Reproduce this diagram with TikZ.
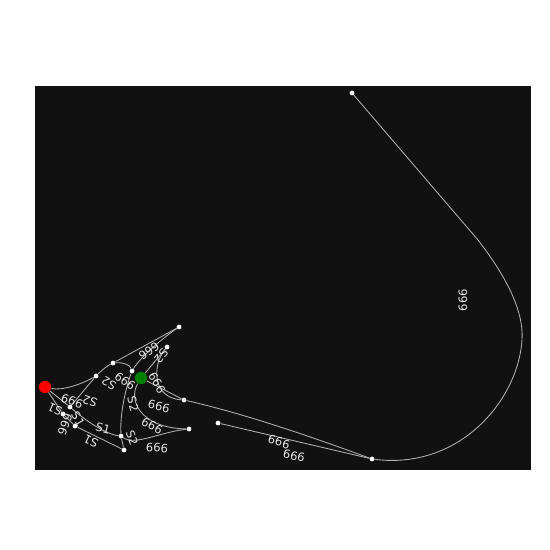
\documentclass[tikz,border=0pt]{standalone}
\usepackage{xcolor}
\usepackage{fontspec}
\setmainfont{DejaVu Sans}
\usepackage{tikz}
\usetikzlibrary{positioning}
\definecolor{bgdark}{HTML}{111111}

\begin{document}
\begin{tikzpicture}[x=0.02cm,y=-0.02cm,
        dot/.style={circle, fill=white, inner sep=0pt, minimum size=2.7pt},
        start/.style={circle, fill=red, inner sep=0pt, minimum size=7pt},
        goal/.style={circle, fill=green!50!black, inner sep=0pt, minimum size=7pt},
        edge/.style={draw=white!68!black, line width=0.5pt},
        lbl/.style={text=white!90!black, font=\fontsize{6.6}{6.6}\selectfont, inner sep=0pt}
    ]

    \fill[white] (0,0) rectangle (550,550);
    \fill[bgdark] (35,86) rectangle (531,470);

    % states
    \node[dot] (top) at (352,93) {};
    \node[dot] (hub) at (372,459) {};
    \node[dot] (c1) at (184,400) {};
    \node[dot] (d1) at (218,423) {};
    \node[dot] (e1) at (179,327) {};
    \node[dot] (f1) at (167,347) {};
    \node[dot] (g1) at (113,363) {};
    \node[dot] (h1) at (96,376) {};
    \node[dot] (i1) at (132,371) {};
    \node[dot] (j1) at (70,407) {};
    \node[dot] (k1) at (63,414) {};
    \node[dot] (l1) at (75,426) {};
    \node[dot] (m1) at (189,429) {};
    \node[dot] (n1) at (121,436) {};
    \node[dot] (o1) at (124,450) {};
    \node[start] (ini) at (45,387) {};
    \node[goal] (fim) at (141,378) {};

    % transicoes
    \draw[edge] (top) -- (478,240) .. controls (505,275) and (524,310) .. (522,340) .. controls (518,400) and (460,470) .. (hub);
    \draw[edge] (c1) .. controls (250,415) and (320,440) .. (hub);
    \draw[edge] (d1) -- (hub);
    \draw[edge] (ini) .. controls (62,391) and (82,384) .. (h1);
    \draw[edge] (h1) .. controls (102,370) and (107,366) .. (g1);
    \draw[edge] (g1) -- (e1);
    \draw[edge] (e1) .. controls (160,340) and (140,358) .. (i1);
    \draw[edge] (g1) .. controls (123,362) and (130,365) .. (i1);
    \draw[edge] (f1) -- (fim);
    \draw[edge] (f1) .. controls (152,365) and (152,398) .. (c1);
    \draw[edge] (fim) -- (c1);
    \draw[edge] (fim) .. controls (128,400) and (140,428) .. (m1);
    \draw[edge] (i1) .. controls (125,390) and (120,415) .. (n1);
    \draw[edge] (n1) -- (o1);
    \draw[edge] (n1) .. controls (135,446) and (160,432) .. (m1);
    \draw[edge] (ini) -- (j1);
    \draw[edge] (ini) -- (k1);
    \draw[edge] (h1) -- (j1);
    \draw[edge] (j1) .. controls (85,420) and (105,434) .. (n1);
    \draw[edge] (k1) -- (l1);
    \draw[edge] (l1) -- (o1);

    % rotulos
    \node[lbl, rotate=90] (t1) at (463,300) {666};
    \node[lbl, rotate=-17] (t2) at (279,442) {666};
    \node[lbl, rotate=-12] (t3) at (294,456) {666};
    \node[lbl, rotate=-4] (t4) at (157,448) {666};
    \node[lbl, rotate=-28] (t5) at (152,426) {666};
    \node[lbl, rotate=-15] (t6) at (159,406) {666};
    \node[lbl, rotate=-60] (t7) at (157,383) {666};
    \node[lbl, rotate=215] (t8) at (149,351) {666};
    \node[lbl, rotate=230] (t9) at (161,356) {S2};
    \node[lbl, rotate=-35] (t10) at (125,381) {666};
    \node[lbl, rotate=150] (t11) at (109,383) {S2};
    \node[lbl, rotate=-75] (t12) at (133,404) {S2};
    \node[lbl, rotate=-70] (t13) at (132,438) {S2};
    \node[lbl, rotate=-20] (t14) at (72,401) {666};
    \node[lbl, rotate=160] (t15) at (90,401) {S2};
    \node[lbl, rotate=155] (t16) at (55,409) {S1};
    \node[lbl, rotate=-110] (t17) at (65,424) {666};
    \node[lbl, rotate=-60] (t18) at (78,419) {S1};
    \node[lbl, rotate=-15] (t19) at (103,428) {S1};
    \node[lbl, rotate=155] (t20) at (91,441) {S1};

\end{tikzpicture}
\end{document}
